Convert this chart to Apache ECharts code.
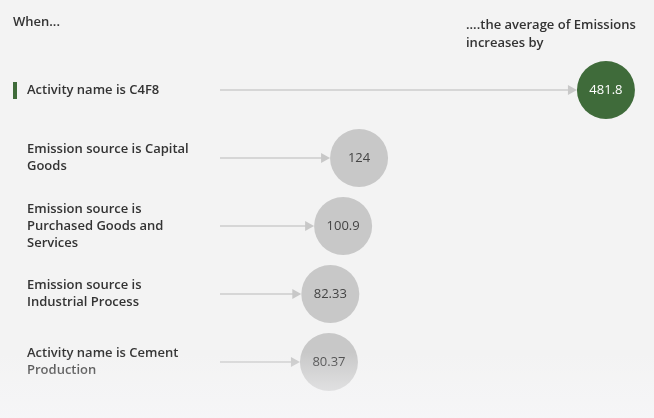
<!DOCTYPE html>
<html>
<head>
<meta charset="utf-8">
<script src="https://cdn.jsdelivr.net/npm/echarts@6/dist/echarts.min.js"></script>
<style>
  html, body { margin: 0; padding: 0; background: #f3f3f3; }
  #chart { width: 654px; height: 418px; }
</style>
</head>
<body>
<div id="chart"></div>
<script>
// Key influencers: condition -> increase in the average of Emissions
const conditions = [
  'Activity name is C4F8',
  'Emission source is Capital Goods',
  'Emission source is Purchased Goods and Services',
  'Emission source is Industrial Process',
  'Activity name is Cement Production'
];
const increases = [481.8, 124, 100.9, 82.33, 80.37];
const selectedIndex = 0;

const FONT = '"Segoe UI", "Open Sans", "Noto Sans", sans-serif';
const TEXT = '#333333';
const BUBBLE = 58;
const LINE_START_X = 220;

const chart = echarts.init(document.getElementById('chart'), null, { renderer: 'canvas' });

chart.setOption({
  backgroundColor: '#f3f3f3',
  animation: false,
  grid: { left: 273.5, right: 35.5, top: 56, bottom: 22 },
  xAxis: {
    type: 'value', min: 0, max: 500,
    show: false
  },
  yAxis: {
    type: 'category',
    inverse: true,
    data: conditions,
    axisLine: { show: false },
    axisTick: { show: false },
    splitLine: { show: false },
    axisLabel: {
      align: 'left',
      margin: 246.5,
      width: 170,
      overflow: 'break',
      lineHeight: 17,
      fontSize: 13,
      fontWeight: 600,
      fontFamily: FONT,
      color: TEXT
    }
  },
  graphic: [
    {
      type: 'text', left: 13, top: 16,
      style: { text: 'When...', fontSize: 13, fontWeight: 600, fontFamily: FONT, fill: TEXT }
    },
    {
      type: 'text', left: 466, top: 16,
      style: {
        text: '....the average of Emissions\nincreases by',
        fontSize: 13, fontWeight: 600, lineHeight: 18, fontFamily: FONT, fill: TEXT
      }
    },
    {
      // soft fade along the bottom edge
      type: 'rect', left: 0, top: 352, z: 100, silent: true,
      shape: { width: 654, height: 66 },
      style: {
        fill: {
          type: 'linear', x: 0, y: 0, x2: 0, y2: 1,
          colorStops: [
            { offset: 0, color: 'rgba(246,246,248,0)' },
            { offset: 0.5, color: 'rgba(246,246,248,0.45)' },
            { offset: 1, color: 'rgba(246,246,248,0.85)' }
          ]
        }
      }
    }
  ],
  series: [
    {
      // connector lines with arrowheads, ending at each bubble's edge
      type: 'custom',
      data: increases.map((v, i) => [v, i]),
      renderItem: function (params, api) {
        const c = api.coord([api.value(0), api.value(1)]);
        const endX = c[0] - BUBBLE / 2;
        const y = c[1];
        const children = [
          {
            type: 'line',
            shape: { x1: LINE_START_X, y1: y, x2: endX - 7, y2: y },
            style: { stroke: '#d6d6d6', lineWidth: 2 }
          },
          {
            type: 'polygon',
            shape: { points: [[endX - 9, y - 5], [endX, y], [endX - 9, y + 5]] },
            style: { fill: '#c8c8c8' }
          }
        ];
        if (params.dataIndex === selectedIndex) {
          children.push({
            type: 'rect',
            shape: { x: 13, y: y - 8, width: 4, height: 17 },
            style: { fill: '#3f6b3a' }
          });
        }
        return { type: 'group', children: children };
      },
      z: 1
    },
    {
      type: 'scatter',
      symbolSize: BUBBLE,
      itemStyle: { opacity: 1 },
      data: increases.map((v, i) => ({
        value: [v, i],
        itemStyle: { color: i === selectedIndex ? '#3f6b3a' : '#c8c8c8', opacity: 1 },
        label: { color: i === selectedIndex ? '#ffffff' : '#444444' }
      })),
      label: {
        show: true,
        position: 'inside',
        fontSize: 13,
        fontFamily: FONT,
        formatter: p => String(p.value[0])
      },
      z: 2
    }
  ]
});
</script>
</body>
</html>
